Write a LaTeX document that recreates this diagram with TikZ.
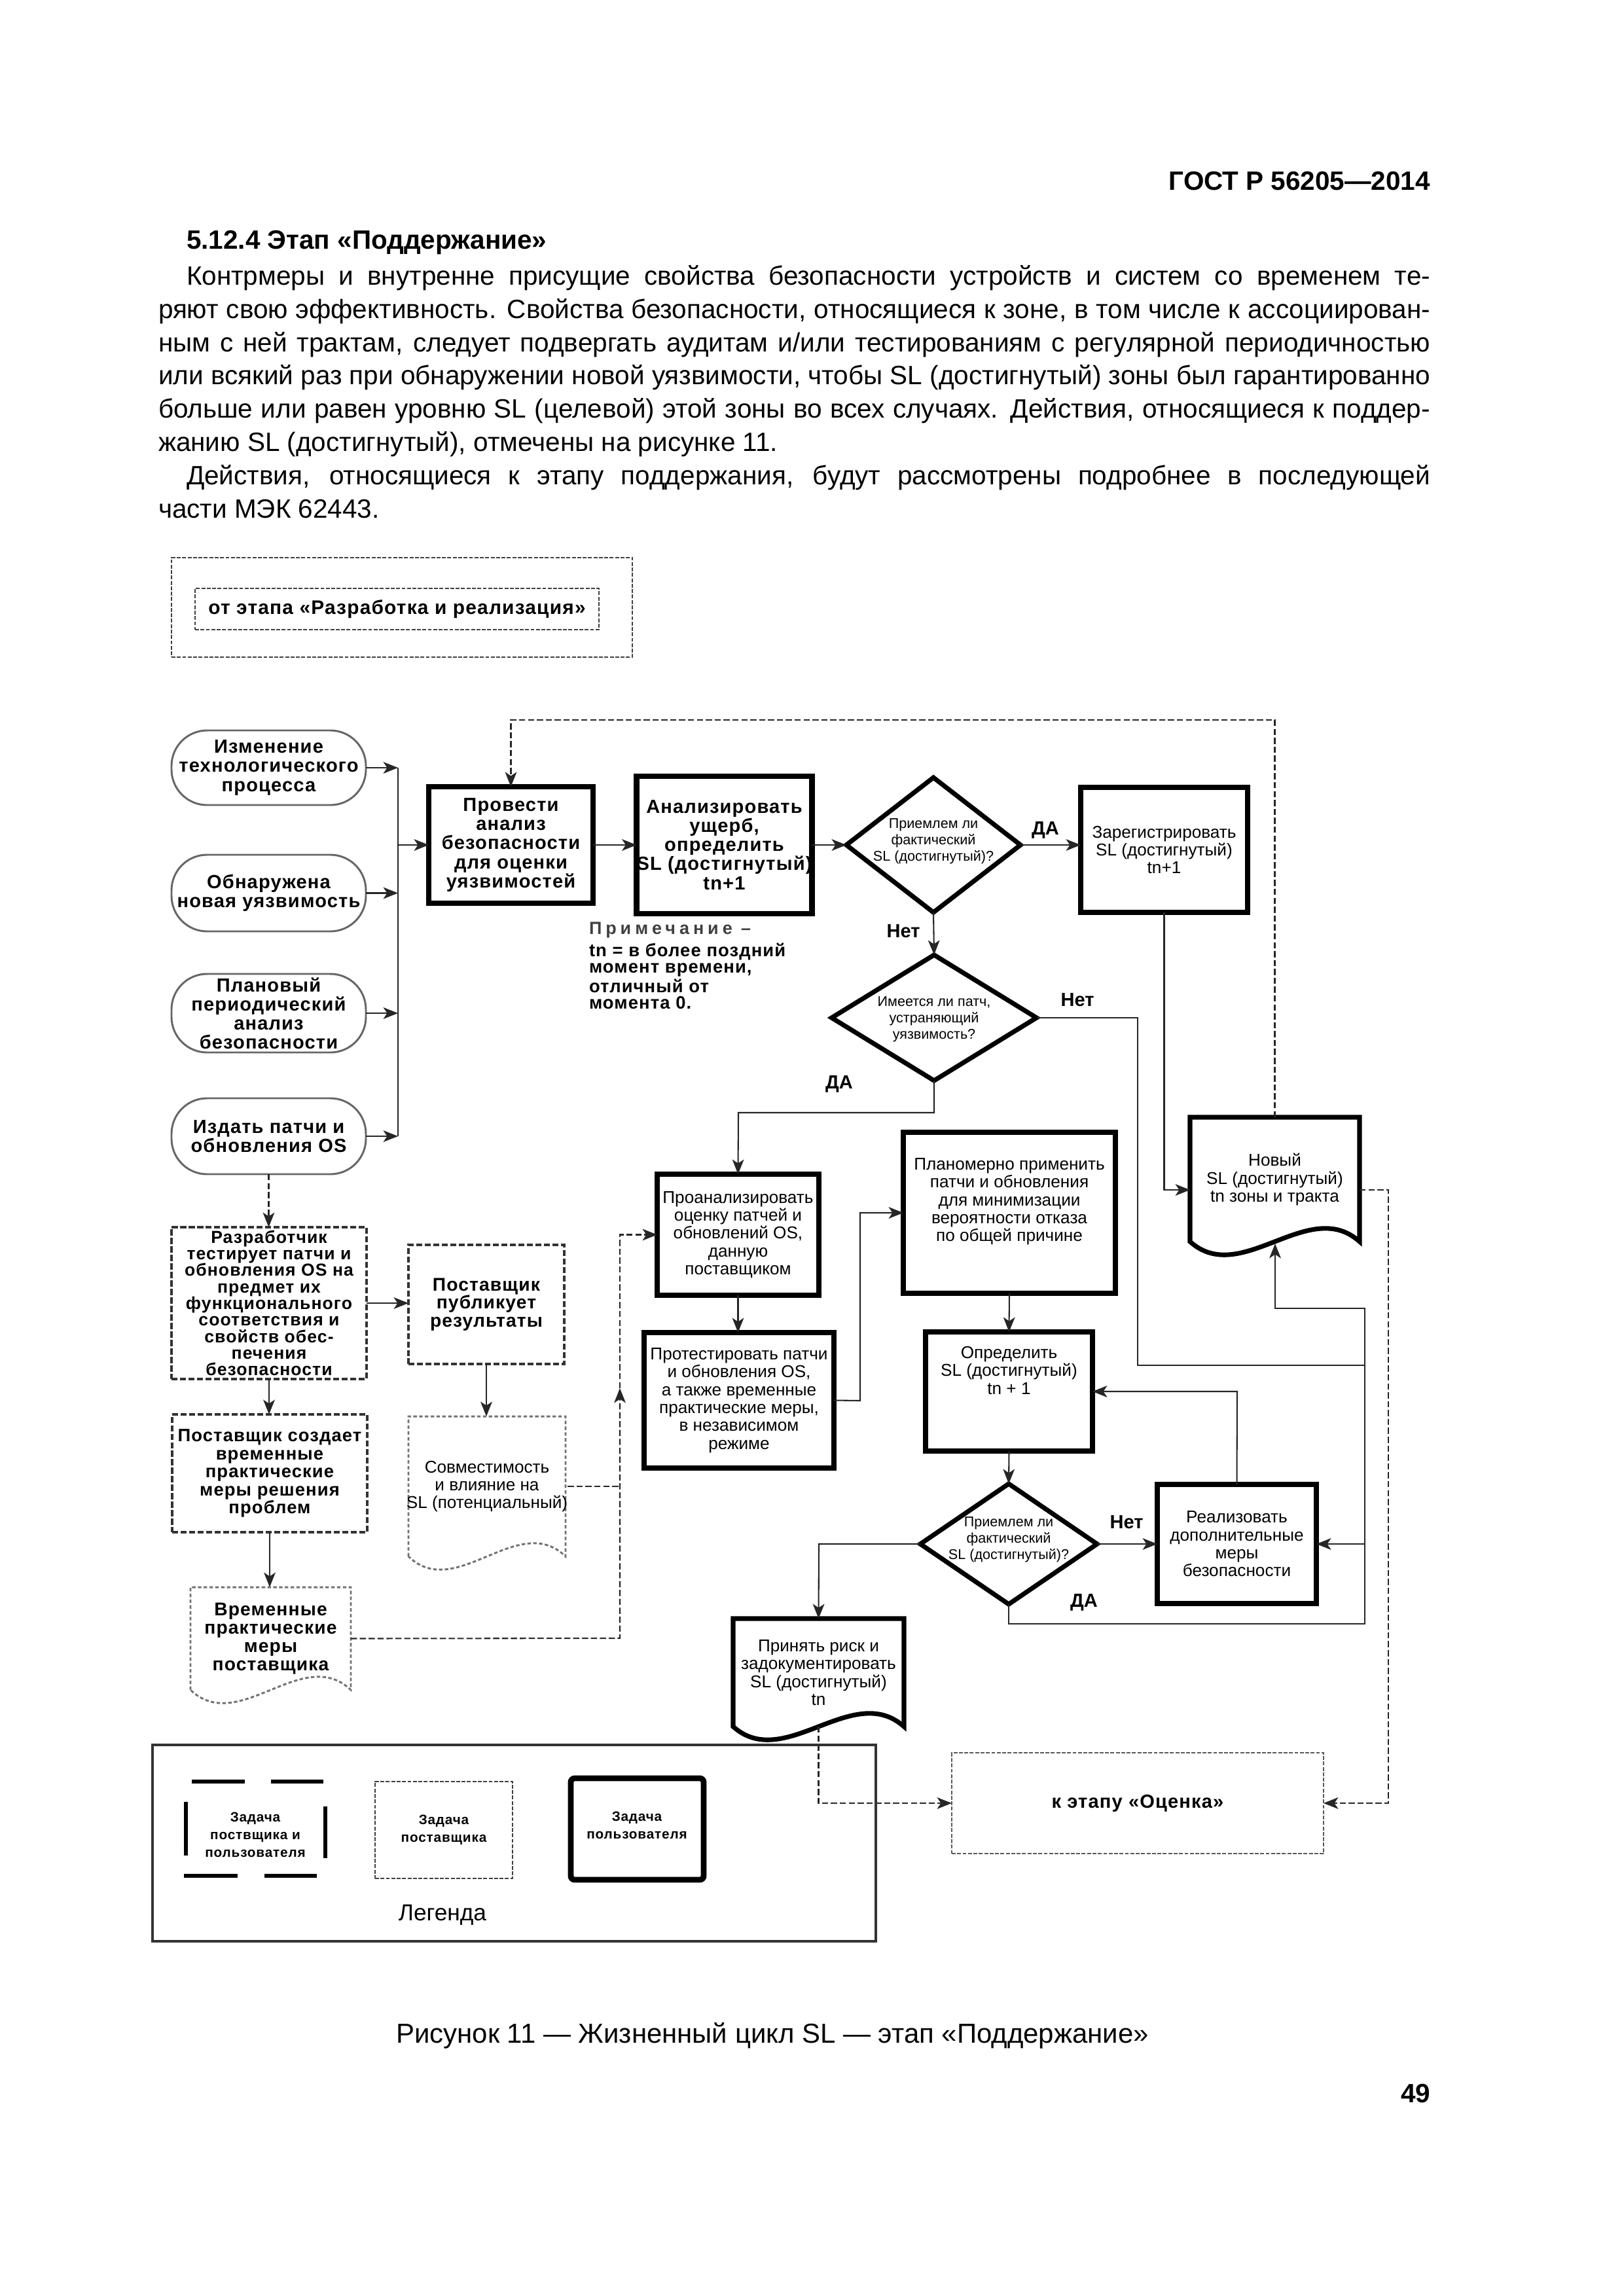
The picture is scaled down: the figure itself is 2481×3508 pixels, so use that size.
\documentclass[tikz,border=0pt]{standalone}
\usepackage{fontspec}
\setmainfont{Liberation Sans}
\newfontfamily\dbf[LetterSpace=4]{Liberation Sans}
\newfontfamily\nsp[LetterSpace=22]{Liberation Sans}
\usetikzlibrary{arrows.meta,shapes.geometric,calc}

\newcommand\bodyf{\fontsize{9.75}{12.2}\selectfont}
\newcommand\capf{\fontsize{10.1}{12.2}\selectfont}
\newcommand\bff{\fontsize{7}{7}\selectfont\dbf\bfseries}
\newcommand\bffs{\fontsize{6.4}{6.1}\selectfont\dbf\bfseries}
\newcommand\regf{\fontsize{6.3}{6.6}\selectfont}
\newcommand\dmf{\fontsize{5.2}{6}\selectfont}
\newcommand\lgf{\fontsize{5}{6.5}\selectfont\dbf\bfseries}

\tikzset{
 x=0.0846667mm, y=-0.0846667mm,
 every node/.style={inner sep=0pt, outer sep=0pt},
 conn/.style={line width=0.5pt, draw=black!85},
 arr/.style={conn, -{Stealth[length=1.9mm,width=1.5mm,inset=0.5mm]}},
 dconn/.style={conn, dash pattern=on 0.8mm off 0.35mm},
 darr/.style={dconn, -{Stealth[length=1.9mm,width=1.5mm,inset=0.5mm]}},
 ubox/.style={draw, line width=0.75mm, align=center, font=\regf},
 ubold/.style={ubox, font=\bff},
 dia/.style={diamond, draw, line width=0.6mm},
 oval/.style={draw=black!60, line width=0.25mm, rounded corners=4.6mm, align=center, font=\bff},
 sbox/.style={draw=black!80, line width=0.3mm, dash pattern=on 0.8mm off 0.3mm, align=center, font=\bffs},
 topbox/.style={draw=black!75, line width=0.22mm, dash pattern=on 0.5mm off 0.2mm, align=center},
 docn/.style={align=center},
 udoc/.style={draw, line width=0.6mm, fill=white},
 ldoc/.style={draw=black!55, line width=0.25mm, dash pattern=on 0.45mm off 0.3mm},
 lbl/.style={font=\fontsize{7}{7}\selectfont\bfseries},
 bodyl/.style={anchor=base west, font=\bodyf},
}

% #1 style, #2 name, #3 x1, #4 y1, #5 x2, #6 y2, #7 text
\newcommand\bx[7]{\node[#1, minimum width={(#5-#3)*0.0846667mm}, minimum height={(#6-#4)*0.0846667mm}] (#2) at ({(#3+#5)/2},{(#4+#6)/2}) {#7};}
% document shape: #1 node style, #2 path style, #3 name, #4 x1, #5 y1, #6 x2, #7 yb, #8 text
\newcommand\docshape[8]{%
 \draw[#2] (#4,#7) -- (#4,#5) -- (#6,#5) -- (#6,#7) .. controls ({#6-(#6-#4)*0.3},{#7-70}) and ({#4+(#6-#4)*0.3},{#7+70}) .. (#4,#7) -- cycle;
 \node[#1, minimum width={(#6-#4)*0.0846667mm}, minimum height={(#7-#5)*0.0846667mm}] (#3) at ({(#4+#6)/2},{(#5+#7)/2}) {#8};}

\begin{document}
\begin{tikzpicture}
\useasboundingbox (0,0) rectangle (2481,3508);
\fill[white] (0,0) rectangle (2481,3508);

% ---------- page text ----------
\node[anchor=base east, font=\bodyf\bfseries] (hdr) at (2185,290) {ГОСТ Р 56205—2014};
\node[bodyl, font=\bodyf\bfseries] (sec) at (285,380) {5.12.4 Этап «Поддержание»};
\node[bodyl] (l1) at (285,435) {\makebox[160.87mm][s]{Контрмеры и внутренне присущие свойства безопасности устройств и систем со временем те-}};
\node[bodyl] (l2) at (242,486) {\makebox[164.51mm][s]{ряют свою эффективность. Свойства безопасности, относящиеся к зоне, в том числе к ассоциирован-}};
\node[bodyl] (l3) at (242,537) {\makebox[164.51mm][s]{ным с ней трактам, следует подвергать аудитам и/или тестированиям с регулярной периодичностью}};
\node[bodyl] (l4) at (242,587) {\makebox[164.51mm][s]{или всякий раз при обнаружении новой уязвимости, чтобы SL (достигнутый) зоны был гарантированно}};
\node[bodyl] (l5) at (242,638) {\makebox[164.51mm][s]{больше или равен уровню SL (целевой) этой зоны во всех случаях. Действия, относящиеся к поддер-}};
\node[bodyl] (l6) at (242,689) {жанию SL (достигнутый), отмечены на рисунке 11.};
\node[bodyl] (l7) at (285,740) {\makebox[160.87mm][s]{Действия, относящиеся к этапу поддержания, будут рассмотрены подробнее в последующей}};
\node[bodyl] (l8) at (242,791) {части МЭК 62443.};

\node[anchor=base, font=\capf] (cap) at (1180,3121) {Рисунок 11 — Жизненный цикл SL — этап «Поддержание»};
\node[anchor=base east, font=\bodyf\bfseries] (pgn) at (2185,3212) {49};

% ---------- top box ----------
\bx{topbox}{from}{262}{852}{966}{1004}{}
\bx{topbox, font={\fontsize{7.2}{7.2}\selectfont\dbf\bfseries}}{fromin}{298}{899}{915}{962}{от этапа «Разработка и реализация»}

% ---------- left ovals ----------
\bx{oval}{o1}{262}{1116}{559}{1230}{Изменение\\технологического\\процесса}
\bx{oval}{o2}{262}{1306}{559}{1423}{Обнаружена\\новая уязвимость}
\bx{oval}{o3}{262}{1488}{559}{1608}{Плановый\\периодический\\анализ\\безопасности}
\bx{oval}{o4}{262}{1678}{559}{1794}{Издать патчи и\\обновления OS}
\coordinate (busT) at (608,1173);
\coordinate (busB) at (608,1736);
\draw[conn] (busT) -- (busB);
\draw[arr] (o1.east) -- (o1.east -| busT);
\draw[arr] (o2.east) -- (o2.east -| busT);
\draw[arr] (o3.east) -- (o3.east -| busT);
\draw[arr] (o4.east) -- (o4.east -| busT);

% ---------- main boxes ----------
\bx{ubold}{prov}{655}{1202}{906}{1380}{Провести\\анализ\\безопасности\\для оценки\\уязвимостей}
\coordinate (busM) at (608,1291);
\draw[arr] (busM) -- (prov.west);
\bx{ubold}{anal}{980}{1186}{1233}{1396}{Анализировать\\ущерб,\\определить\\SL (достигнутый)\\tn+1}
\draw[arr] (prov.east) -- (prov.east -| anal.west);

\node[dia, minimum width={266*0.0846667mm}, minimum height={206*0.0846667mm}] (d1) at (1426,1291) {};
\node[font=\dmf, align=center] (d1t) at (1426,1285) {Приемлем ли\\фактический\\SL (достигнутый)?};
\draw[arr] (anal.east) -- (d1.west);

\bx{ubox}{zar}{1651}{1203}{1906}{1394}{Зарегистрировать\\SL (достигнутый)\\tn+1}
\draw[arr] (d1.east) -- (d1.east -| zar.west);
\node[lbl] (da1) at (1597,1268) {ДА};

\node[dia, minimum width={313*0.0846667mm}, minimum height={192*0.0846667mm}] (d2) at (1427,1555) {};
\node[font=\dmf, align=center] (d2t) at (1427,1557) {Имеется ли патч,\\устраняющий\\уязвимость?};
\draw[arr] (d1.south) -- (d2.north);
\node[lbl] (net1) at (1380,1423) {Нет};

% note
\node[anchor=base west, font=\fontsize{6.5}{6.5}\selectfont\nsp\bfseries, text=black!75] (nh) at (900,1427) {Примечание –};
\node[anchor=north west, align=left, font=\fontsize{6.6}{5.95}\selectfont\dbf\bfseries] (nb) at (900,1441) {tn = в более поздний\\момент времени,\\отличный от\\момента 0.};

% new SL document
\docshape{docn, font=\regf}{udoc}{new}{1818}{1707}{2077}{1897}{Новый\\SL (достигнутый)\\tn зоны и тракта}
\coordinate (newin) at (1818,1818);
\draw[arr] (zar.south) -- (zar.south |- newin) -- (newin);
\node[lbl] (net2) at (1646,1528) {Нет};

% patch branch
\bx{ubox}{proan}{1004}{1794}{1251}{1979}{Проанализировать\\оценку патчей и\\обновлений OS,\\данную\\поставщиком}
\draw[arr] (d2.south) -- (1427,1700) -- (1128,1700) -- (proan.north);
\node[lbl] (da2) at (1282,1656) {ДА};
\bx{ubox}{prot}{984}{2036}{1274}{2243}{Протестировать патчи\\и обновления OS,\\а также временные\\практические меры,\\в независимом\\режиме}
\draw[arr] (proan.south) -- (proan.south |- prot.north);
\bx{ubox}{plan}{1380}{1730}{1704}{1976}{Планомерно применить\\патчи и обновления\\для минимизации\\вероятности отказа\\по общей причине\\[3pt]}
\draw[arr] (prot.east) -- (1314,2140) -- (1314,1853) -- (plan.west);
\bx{ubox}{opr}{1414}{2035}{1669}{2217}{Определить\\SL (достигнутый)\\tn + 1\\[9pt]}
\draw[arr] (plan.south) -- (opr.north);

\node[dia, minimum width={270*0.0846667mm}, minimum height={184*0.0846667mm}] (d3) at (1541,2359) {};
\node[font=\dmf, align=center] (d3t) at (1541,2352) {Приемлем ли\\фактический\\SL (достигнутый)?};
\draw[arr] (opr.south) -- (d3.north);

\bx{ubox}{real}{1768}{2268}{2011}{2450}{Реализовать\\дополнительные\\меры\\безопасности}
\draw[arr] (d3.east) -- (real.west);
\node[lbl] (net3) at (1721,2326) {Нет};
\draw[arr] (real.north) -- (1890,2126) -- (opr.east);

\docshape{docn, font=\regf}{udoc}{prin}{1120}{2473}{1381}{2638}{Принять риск и\\задокументировать\\SL (достигнутый)\\tn}
\draw[arr] (d3.west) -- (1251,2359) -- (prin.north);

% YES from d3 to new SL
\draw[arr] (d3.south) -- (1541,2481) -- (2085,2481) -- (2085,1999) -- (1948,1999) -- (1948,1900);
\node[lbl] (da3) at (1656,2448) {ДА};
% NO from d2 to real
\draw[arr] (d2.east) -- (1738,1555) -- (1738,2086) -- (2085,2086) -- (2085,2359) -- (real.east);

% to evaluation
\bx{topbox, draw=black!65, font={\fontsize{7}{7}\selectfont\dbf\bfseries}}{ocen}{1454}{2678}{2022}{2832}{к этапу «Оценка»}
\coordinate (newr) at (2077,1818);
\draw[darr] (newr) -- (2121,1818) -- (2121,2755) -- (ocen.east);
\draw[darr] (prin.south) -- (prin.south |- ocen.west) -- (ocen.west);
% loop back to analysis
\draw[darr] (new.north) -- (1947.5,1100) -- (780.5,1100) -- (prov.north);

% ---------- supplier column ----------
\bx{sbox}{raz}{262}{1875}{560}{2107}{Разработчик\\тестирует патчи и\\обновления OS на\\предмет их\\функционального\\соответствия и\\свойств обес-\\печения\\безопасности}
\draw[darr] (o4.south) -- (o4.south |- raz.north);
\bx{sbox, font={\fontsize{6.6}{6.6}\selectfont\dbf\bfseries}}{pscr}{263}{2161}{561}{2341}{Поставщик создает\\временные\\практические\\меры решения\\проблем}
\draw[arr] (raz.south) -- (raz.south |- pscr.north);
\bx{sbox, font={\fontsize{6.8}{6.6}\selectfont\dbf\bfseries}}{pub}{624}{1902}{862}{2084}{Поставщик\\публикует\\результаты}
\draw[arr] (raz.east) -- (raz.east -| pub.west);
\docshape{docn, font=\regf}{ldoc}{sovm}{624}{2164}{864}{2378}{Совместимость\\и влияние на\\SL (потенциальный)}
\draw[arr] (pub.south) -- (pub.south |- sovm.north);
\docshape{docn, font={\fontsize{6.8}{6.8}\selectfont\dbf\bfseries}}{ldoc}{vrem}{291}{2425}{536}{2582}{Временные\\практические\\меры\\поставщика}
\draw[arr] (pscr.south) -- (pscr.south |- vrem.north);
\draw[darr] (vrem.east) -- (947,2503) -- (947,2121);
\draw[darr] (947,2121) -- (947,1886.5) -- (proan.west);
\draw[dconn] (sovm.east) -- (947,2271);

% ---------- legend ----------
\bx{draw=black!80, line width=0.35mm}{leg}{233}{2666}{1338}{2966}{}
\draw[line width=0.45mm] (293,2722) -- (374,2722) (414,2722) -- (494,2722)
  (281,2866) -- (363,2866) (404,2866) -- (484,2866)
  (284,2753) -- (284,2835) (497,2760) -- (497,2839);
\node[font=\lgf, align=center] (lg1) at (390,2803) {Задача\\поствщика и\\пользователя};
\bx{topbox, font=\lgf}{lg2}{573}{2722}{783}{2870}{Задача\\поставщика}
\bx{draw, line width=0.75mm, rounded corners=0.5mm, font=\lgf}{lg3}{872}{2717}{1075}{2872}{}
\node[font=\lgf, align=center] (lg3t) at (973,2789) {Задача\\пользователя};
\node[font=\fontsize{8.5}{8.5}\selectfont] (legt) at (676,2926) {Легенда};

\end{tikzpicture}
\end{document}
